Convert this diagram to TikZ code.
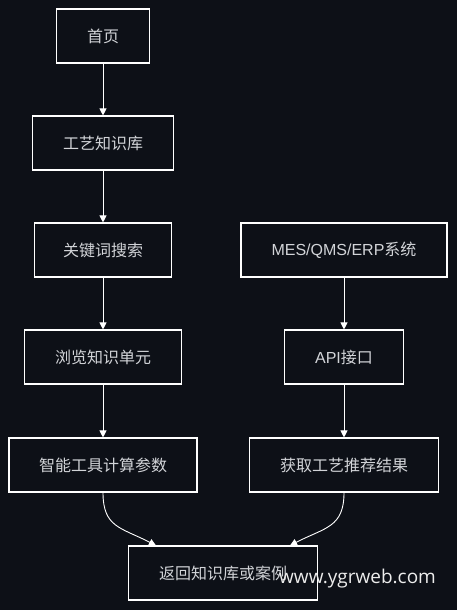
\documentclass[tikz,border=0pt]{standalone}
\usepackage{fontspec}
\newfontfamily\cjk{Noto Sans CJK SC}
\newfontfamily\latin{Liberation Sans}
\newfontfamily\markfont{Open Sans}
\usetikzlibrary{arrows.meta}

\definecolor{bgcol}{HTML}{0D1017}
\definecolor{txtcol}{HTML}{D2D4D8}

\tikzset{
	stepbox/.style={draw=white, line width=1.1pt, fill=bgcol, text=txtcol,
		font=\cjk\fontsize{16}{19}\selectfont, minimum height=54pt, inner sep=0pt},
	link/.style={draw=white, line width=0.9pt, -{Triangle[width=7pt,length=7pt]}}
}

\begin{document}
\begin{tikzpicture}[x=1pt,y=-1pt]
	% Background
	\fill[bgcol] (0,0) rectangle (457,610);
	\useasboundingbox (0,0) rectangle (457,610);
	% Left column
	\node[stepbox, minimum width=93pt]  (home)   at (103,36)  {首页};
	\node[stepbox, minimum width=141pt] (lib)    at (103,143) {工艺知识库};
	\node[stepbox, minimum width=137pt] (search) at (103,250) {关键词搜索};
	\node[stepbox, minimum width=157pt] (browse) at (103,357) {浏览知识单元};
	\node[stepbox, minimum width=188pt] (tool)   at (103,465) {智能工具计算参数};
	% Right column
	\node[stepbox, minimum width=206pt] (mes)    at (344,250) {{\latin MES/QMS/ERP}系统};
	\node[stepbox, minimum width=119pt] (api)    at (344,357) {{\latin API}接口};
	\node[stepbox, minimum width=189pt] (rec)    at (344,465) {获取工艺推荐结果};
	% Result
	\node[stepbox, minimum width=189pt] (ret)    at (223,573) {返回知识库或案例};
	% Arrows
	\draw[link] (home) -- (lib);
	\draw[link] (lib) -- (search);
	\draw[link] (search) -- (browse);
	\draw[link] (browse) -- (tool);
	\draw[link] (mes) -- (api);
	\draw[link] (api) -- (rec);
	\draw[link] (tool.south) .. controls +(0,35) and +(-35,-18) .. ([xshift=28pt]ret.north west);
	\draw[link] (rec.south) .. controls +(0,35) and +(35,-18) .. ([xshift=-28pt]ret.north east);
	% Watermark
	\node[anchor=west, text=white!85!gray, font=\markfont\fontsize{19}{21}\selectfont, inner sep=0pt] (mark) at (279,579) {www.ygrweb.com};
\end{tikzpicture}
\end{document}
